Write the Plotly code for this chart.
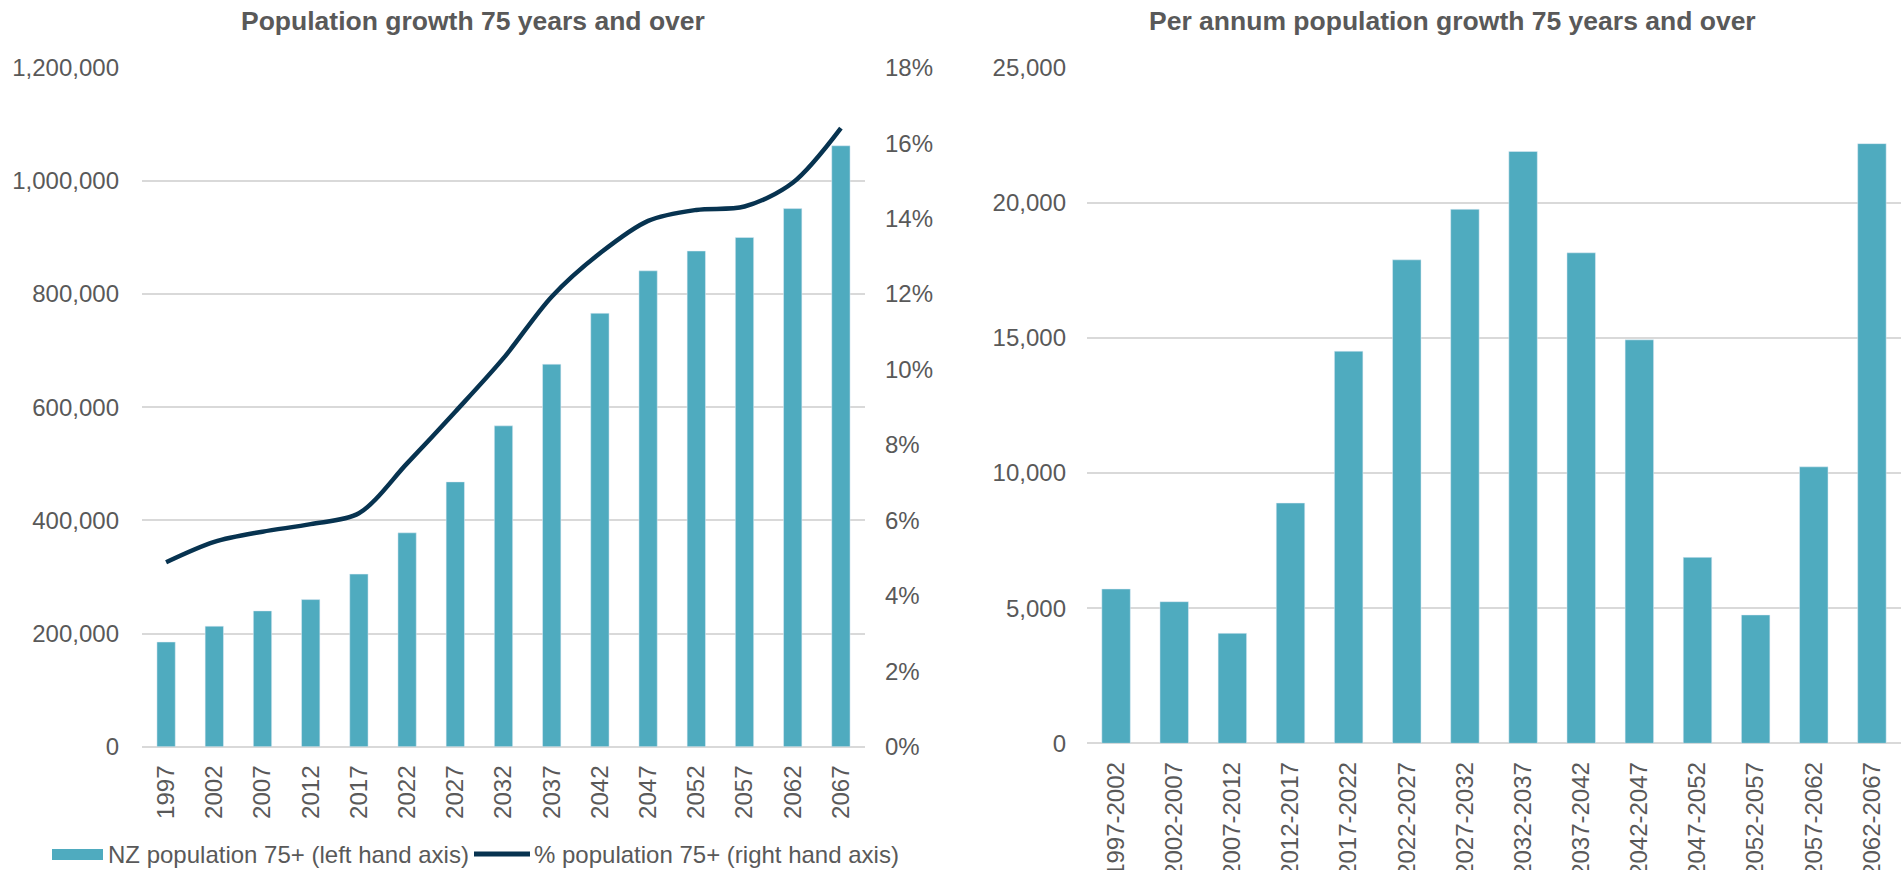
import plotly.graph_objects as go

# ---- data ----
years = ["1997", "2002", "2007", "2012", "2017", "2022", "2027", "2032",
         "2037", "2042", "2047", "2052", "2057", "2062", "2067"]
pop_75plus = [185000, 213000, 240000, 260000, 305000, 378000, 468000, 567000,
              676000, 766000, 841000, 876000, 900000, 951000, 1062000]
pct_75plus = [4.89, 5.43, 5.70, 5.90, 6.19, 7.51, 8.88, 10.3, 11.93, 13.08,
              13.94, 14.23, 14.32, 14.95, 16.4]

periods = ["1997-2002", "2002-2007", "2007-2012", "2012-2017", "2017-2022",
           "2022-2027", "2027-2032", "2032-2037", "2037-2042", "2042-2047",
           "2047-2052", "2052-2057", "2057-2062", "2062-2067"]
growth_pa = [5710, 5240, 4070, 8890, 14510, 17890, 19760, 21900, 18150,
             14930, 6880, 4750, 10230, 22190]

left_ticks = [0, 200000, 400000, 600000, 800000, 1000000, 1200000]
right_pct_ticks = [0, 2, 4, 6, 8, 10, 12, 14, 16, 18]
right_pct_labels = ["0%", "2%", "4%", "6%", "8%", "10%", "12%", "14%", "16%", "18%"]
growth_ticks = [0, 5000, 10000, 15000, 20000, 25000]

title_left = "Population growth 75 years and over"
title_right = "Per annum population growth 75 years and over"
legend_bar = "NZ population 75+ (left hand axis)"
legend_line = "% population 75+ (right hand axis)"

# ---- style ----
W, H = 1902, 870
BAR = "#4FABBF"
LINE = "#073350"
TXT = "#595959"
GRID = "#D9D9D9"
FONT = "Liberation Sans, Arial, sans-serif"
FS = 24

def px_x(p):
    return p / W

def px_y(p):
    return 1 - p / H

fig = go.Figure()
fig.add_trace(go.Bar(x=years, y=pop_75plus, marker_color=BAR, width=0.38,
                     xaxis="x", yaxis="y", name=legend_bar, showlegend=False))
fig.add_trace(go.Scatter(x=years, y=pct_75plus, mode="lines",
                         line=dict(color=LINE, width=4.5, shape="spline", smoothing=0.9),
                         xaxis="x", yaxis="y2", name=legend_line, showlegend=False))
fig.add_trace(go.Bar(x=periods, y=growth_pa, marker_color=BAR, width=0.49,
                     xaxis="x2", yaxis="y3", showlegend=False))

tickfont = dict(family=FONT, size=FS, color=TXT)

fig.update_layout(
    width=W, height=H,
    margin=dict(l=0, r=0, t=0, b=0),
    paper_bgcolor="white", plot_bgcolor="white",
    font=dict(family=FONT, color=TXT),
    xaxis=dict(domain=[px_x(142), px_x(865)], anchor="y", type="category",
               tickangle=-90, tickfont=tickfont, showgrid=False, showline=False,
               ticks="", ticklabelstandoff=13, automargin=False, fixedrange=True),
    yaxis=dict(domain=[px_y(746.7), px_y(67.7)], anchor="x", range=[0, 1200000],
               tickvals=left_ticks, tickformat=",", tickfont=tickfont,
               showgrid=True, gridcolor=GRID, gridwidth=2,
               zeroline=True, zerolinecolor=GRID, zerolinewidth=2,
               showline=False, ticks="", ticklabelstandoff=22, automargin=False),
    yaxis2=dict(overlaying="y", side="right", anchor="x", range=[0, 18],
                tickvals=right_pct_ticks, ticktext=right_pct_labels, tickfont=tickfont,
                showgrid=False, zeroline=False, showline=False, ticks="",
                ticklabelstandoff=19, automargin=False),
    xaxis2=dict(domain=[px_x(1087), px_x(1901)], anchor="y3", type="category",
                tickangle=-90, tickfont=tickfont, showgrid=False, showline=False,
                ticks="", ticklabelstandoff=13, automargin=False),
    yaxis3=dict(domain=[px_y(743.3), px_y(67.7)], anchor="x2", range=[0, 25000],
                tickvals=growth_ticks, tickformat=",", tickfont=tickfont,
                showgrid=True, gridcolor=GRID, gridwidth=2,
                zeroline=True, zerolinecolor=GRID, zerolinewidth=2,
                showline=False, ticks="", ticklabelstandoff=20, automargin=False),
    bargap=0.5,
)

# titles
for txt, cx in [(title_left, 473), (title_right, 1452)]:
    fig.add_annotation(text="<b>%s</b>" % txt, xref="paper", yref="paper",
                       x=px_x(cx), y=px_y(21), xanchor="center", yanchor="middle",
                       showarrow=False, font=dict(family=FONT, size=26.5, color=TXT))

# custom legend (layout decoration)
fig.add_shape(type="rect", xref="paper", yref="paper",
              x0=px_x(52), x1=px_x(103), y0=px_y(860), y1=px_y(849),
              fillcolor=BAR, line=dict(width=0))
fig.add_annotation(text=legend_bar, xref="paper", yref="paper",
                   x=px_x(106), y=px_y(854), xanchor="left", yanchor="middle",
                   showarrow=False, font=dict(family=FONT, size=FS, color=TXT))
fig.add_shape(type="line", xref="paper", yref="paper",
              x0=px_x(474), x1=px_x(530), y0=px_y(854), y1=px_y(854),
              line=dict(color=LINE, width=5))
fig.add_annotation(text=legend_line, xref="paper", yref="paper",
                   x=px_x(532), y=px_y(854), xanchor="left", yanchor="middle",
                   showarrow=False, font=dict(family=FONT, size=FS, color=TXT))

fig.write_html("out.html", config={"displayModeBar": False},
               post_script="document.body.style.margin='0';document.body.style.overflow='hidden';")
